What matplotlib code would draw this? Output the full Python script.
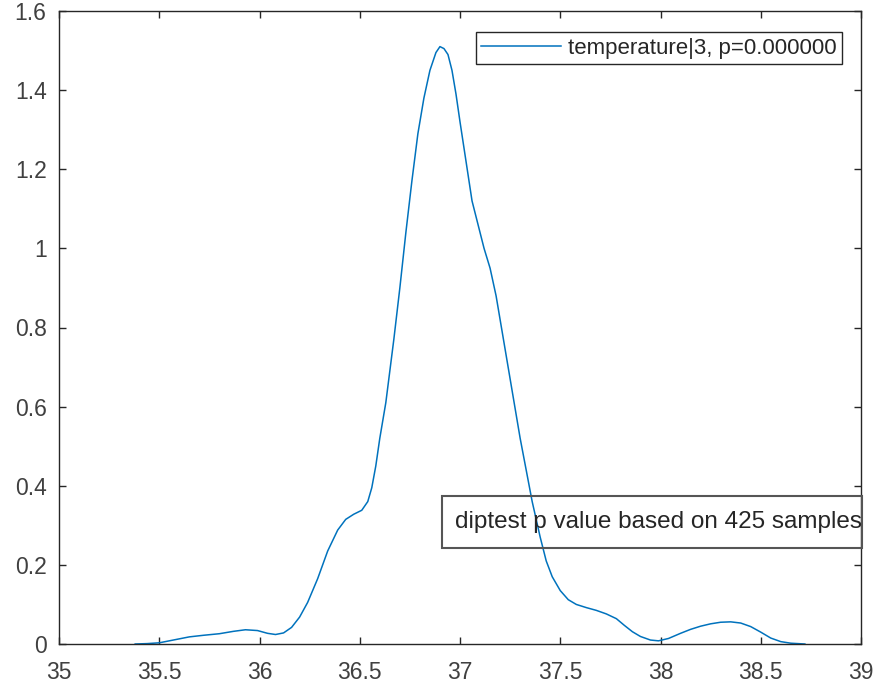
import matplotlib
matplotlib.use("Agg")
import matplotlib.pyplot as plt
from matplotlib.patches import Rectangle

plt.rcParams['font.family'] = ['Liberation Sans', 'DejaVu Sans']

temperature = [35.38, 35.44, 35.50, 35.57, 35.65, 35.72, 35.80, 35.87, 35.93, 35.99,
               36.04, 36.08, 36.12, 36.16, 36.20, 36.24, 36.29, 36.34, 36.39, 36.43,
               36.47, 36.51, 36.54, 36.56, 36.58, 36.60, 36.63, 36.67, 36.70, 36.73,
               36.76, 36.79, 36.82, 36.85, 36.88, 36.90, 36.92, 36.94, 36.96, 36.98,
               37.00, 37.03, 37.06, 37.09, 37.12, 37.15, 37.18, 37.21, 37.24, 37.27,
               37.30, 37.33, 37.36, 37.40, 37.43, 37.46, 37.50, 37.54, 37.58, 37.63,
               37.68, 37.73, 37.78, 37.82, 37.86, 37.90, 37.95, 37.99, 38.04, 38.10,
               38.15, 38.20, 38.25, 38.30, 38.35, 38.40, 38.45, 38.50, 38.55, 38.60,
               38.65, 38.72]
density = [0.000, 0.001, 0.003, 0.010, 0.018, 0.022, 0.026, 0.032, 0.036, 0.034,
           0.027, 0.024, 0.028, 0.042, 0.068, 0.105, 0.165, 0.235, 0.288, 0.315,
           0.328, 0.338, 0.360, 0.395, 0.450, 0.520, 0.610, 0.770, 0.900, 1.040,
           1.170, 1.290, 1.380, 1.450, 1.495, 1.510, 1.505, 1.490, 1.450, 1.390,
           1.320, 1.220, 1.120, 1.060, 1.000, 0.950, 0.880, 0.790, 0.700, 0.610,
           0.520, 0.440, 0.360, 0.270, 0.210, 0.170, 0.135, 0.112, 0.100, 0.092,
           0.085, 0.076, 0.064, 0.047, 0.031, 0.019, 0.010, 0.008, 0.014, 0.027,
           0.037, 0.045, 0.051, 0.055, 0.056, 0.053, 0.044, 0.030, 0.015, 0.006,
           0.002, 0.000]

legend_label = "temperature|3, p=0.000000"
note_text = "diptest p value based on 425 samples"
xticks = [35, 35.5, 36, 36.5, 37, 37.5, 38, 38.5, 39]
xticklabels = ["35", "35.5", "36", "36.5", "37", "37.5", "38", "38.5", "39"]
yticks = [0, 0.2, 0.4, 0.6, 0.8, 1, 1.2, 1.4, 1.6]
yticklabels = ["0", "0.2", "0.4", "0.6", "0.8", "1", "1.2", "1.4", "1.6"]

W, H = 896, 687
fig = plt.figure(figsize=(W / 100, H / 100), dpi=100)
ax = fig.add_axes([59 / W, (H - 644) / H, (861 - 59) / W, (644 - 11) / H])

ax.plot(temperature, density, color='#0072BD', linewidth=1.1, label=legend_label)
ax.set_xlim(35, 39)
ax.set_ylim(0, 1.6)
ax.set_xticks(xticks)
ax.set_xticklabels(xticklabels)
ax.set_yticks(yticks)
ax.set_yticklabels(yticklabels)

axcol = '#262626'
labcol = '#404040'
for s in ax.spines.values():
    s.set_color(axcol)
    s.set_linewidth(1.0)
ax.tick_params(direction='in', length=5, width=1.0, colors=axcol, labelcolor=labcol,
               labelsize=16.5, top=True, right=True)
ax.tick_params(axis='x', pad=12)
ax.tick_params(axis='y', pad=9)

leg = ax.legend(loc='upper right', bbox_to_anchor=((842 - 59) / 802, (644 - 32) / 633),
                borderaxespad=0, fontsize=16, handlelength=3.6, handletextpad=0.3,
                fancybox=False, framealpha=1, borderpad=0.25)
leg.get_frame().set_edgecolor(axcol)
leg.get_frame().set_linewidth(1.0)
for t in leg.get_texts():
    t.set_color(axcol)

fig.add_artist(Rectangle((442 / W, (H - 548) / H), 420 / W, 52 / H,
                         transform=fig.transFigure, facecolor='none',
                         edgecolor='#555555', linewidth=1.5, zorder=5))
fig.text(455 / W, (H - 522) / H, note_text, fontsize=17.5, color=axcol,
         ha='left', va='center', zorder=6)

fig.savefig('out.png', dpi=100)
